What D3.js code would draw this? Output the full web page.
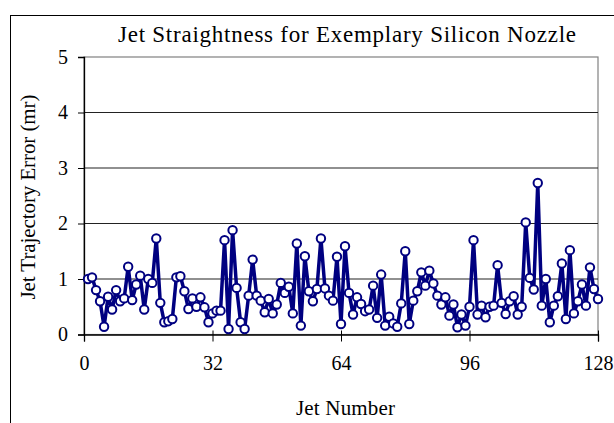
<!DOCTYPE html>
<html>
<head>
<meta charset="utf-8">
<script src="https://cdn.jsdelivr.net/npm/d3@7"></script>
<style>
  html, body { margin: 0; padding: 0; background: #fff; }
  svg { display: block; }
  text { font-family: "Liberation Serif", "Times New Roman", serif; fill: #000; }
</style>
</head>
<body>
<svg id="chart" width="614" height="423"></svg>
<script>
// ---- data ----
const title = "Jet Straightness for Exemplary Silicon Nozzle";
const xTitle = "Jet Number";
const yTitle = "Jet Trajectory Error (mr)";
const xTicks = [0, 32, 64, 96, 128];
const yTicks = [0, 1, 2, 3, 4, 5];
const jetNumbers = d3.range(1, 129);
const errors = [
  1.0, 1.03, 0.8, 0.6, 0.14, 0.68, 0.45, 0.8, 0.6, 0.65,
  1.22, 0.62, 0.9, 1.06, 0.45, 1.0, 0.93, 1.73, 0.57, 0.22,
  0.24, 0.28, 1.03, 1.05, 0.78, 0.46, 0.65, 0.5, 0.67, 0.49,
  0.22, 0.38, 0.43, 0.43, 1.7, 0.1, 1.88, 0.84, 0.22, 0.1,
  0.7, 1.35, 0.7, 0.61, 0.4, 0.64, 0.38, 0.54, 0.93, 0.75,
  0.86, 0.38, 1.64, 0.16, 1.41, 0.78, 0.6, 0.82, 1.73, 0.83,
  0.7, 0.61, 1.4, 0.19, 1.59, 0.75, 0.36, 0.67, 0.55, 0.42,
  0.45, 0.88, 0.3, 1.08, 0.16, 0.32, 0.2, 0.14, 0.56, 1.5,
  0.19, 0.61, 0.78, 1.12, 0.88, 1.15, 0.92, 0.7, 0.54, 0.67,
  0.34, 0.54, 0.13, 0.36, 0.16, 0.5, 1.7, 0.36, 0.52, 0.31,
  0.5, 0.52, 1.25, 0.57, 0.37, 0.6, 0.69, 0.36, 0.5, 2.02,
  1.02, 0.81, 2.73, 0.52, 1.0, 0.22, 0.52, 0.69, 1.28, 0.28,
  1.52, 0.38, 0.6, 0.9, 0.52, 1.21, 0.82, 0.64
];

// ---- layout ----
const svg = d3.select("#chart");
const L = 84, R = 598, T = 57, B = 334.5;
const x = d3.scaleLinear().domain([0, 128]).range([L, R]);
const y = d3.scaleLinear().domain([0, 5]).range([B, T]);
const navy = "#000080";
const tickFont = 20;
const titleFont = 21;

// outer chart border
svg.append("rect").attr("x", 10.5).attr("y", 15.5).attr("width", 700).attr("height", 500)
  .attr("fill", "none").attr("stroke", "#000").attr("stroke-width", 1);

// plot area border (gray top/right)
svg.append("rect").attr("x", L).attr("y", T).attr("width", R - L).attr("height", B - T)
  .attr("fill", "none").attr("stroke", "#808080").attr("stroke-width", 1.2);

// gridlines
svg.append("g").selectAll("line").data(yTicks.filter(d => d > 0 && d < 5)).join("line")
  .attr("x1", L).attr("x2", R).attr("y1", d => y(d)).attr("y2", d => y(d))
  .attr("stroke", "#222").attr("stroke-width", 1.1);

// y axis
const yAxis = d3.axisLeft(y).tickValues(yTicks).tickSize(6).tickPadding(10).tickFormat(d3.format("d"));
const gy = svg.append("g").attr("transform", `translate(${L},0)`).call(yAxis);
gy.select(".domain").attr("stroke", "#000").attr("stroke-width", 1.3);
gy.selectAll(".tick line").attr("stroke", "#000");
gy.selectAll(".tick text").attr("font-size", tickFont).attr("font-family", "Liberation Serif");

// x axis
const xAxis = d3.axisBottom(x).tickValues(xTicks).tickSize(7).tickPadding(14).tickFormat(d3.format("d"));
const gx = svg.append("g").attr("transform", `translate(0,${B})`).call(xAxis);
gx.select(".domain").attr("stroke", "#000").attr("stroke-width", 1.3);
gx.selectAll(".tick line").attr("stroke", "#000").attr("y1", -4);
gx.selectAll(".tick text").attr("font-size", tickFont).attr("font-family", "Liberation Serif");

// line
const pts = jetNumbers.map((n, i) => [n, errors[i]]);
svg.append("path").datum(pts)
  .attr("fill", "none").attr("stroke", navy).attr("stroke-width", 3.5).attr("stroke-linejoin", "round")
  .attr("d", d3.line().x(d => x(d[0])).y(d => y(d[1])));

// markers
svg.append("g").selectAll("circle").data(pts).join("circle")
  .attr("cx", d => x(d[0])).attr("cy", d => y(d[1])).attr("r", 4.2)
  .attr("fill", "#fff").attr("stroke", navy).attr("stroke-width", 2);

// title
svg.append("text").attr("x", 347).attr("y", 42).attr("text-anchor", "middle")
  .attr("font-size", 23).attr("textLength", 458).attr("lengthAdjust", "spacing").text(title);

// x title
svg.append("text").attr("x", 345.5).attr("y", 415).attr("text-anchor", "middle")
  .attr("font-size", titleFont).attr("textLength", 99).attr("lengthAdjust", "spacing").text(xTitle);

// y title
svg.append("text").attr("transform", "translate(35,197) rotate(-90)").attr("text-anchor", "middle")
  .attr("font-size", titleFont).attr("textLength", 205).attr("lengthAdjust", "spacing").text(yTitle);
</script>
</body>
</html>
